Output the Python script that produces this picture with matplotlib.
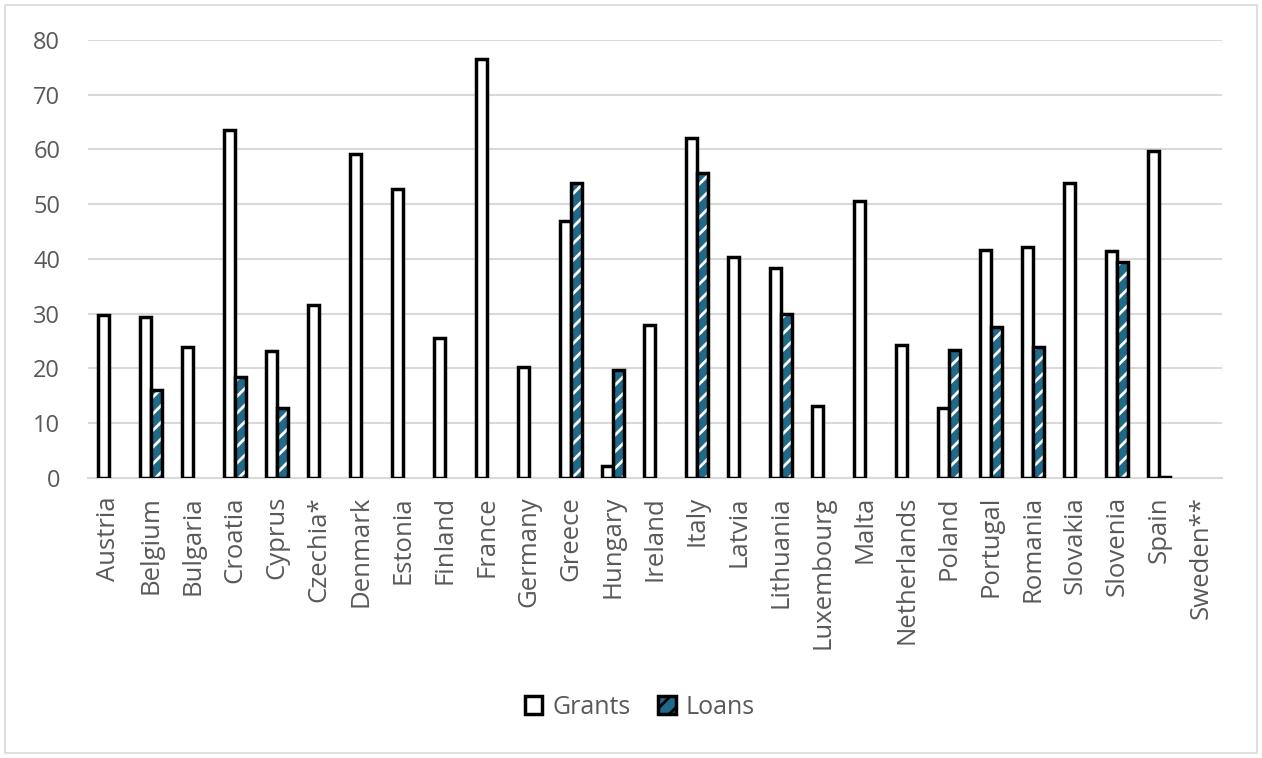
import matplotlib.pyplot as plt
import numpy as np
from matplotlib.patches import Rectangle, Patch

countries = ['Austria', 'Belgium', 'Bulgaria', 'Croatia', 'Cyprus', 'Czechia*',
             'Denmark', 'Estonia', 'Finland', 'France', 'Germany', 'Greece',
             'Hungary', 'Ireland', 'Italy', 'Latvia', 'Lithuania', 'Luxembourg',
             'Malta', 'Netherlands', 'Poland', 'Portugal', 'Romania', 'Slovakia',
             'Slovenia', 'Spain', 'Sweden**']
grants = [29.7, 29.4, 24.0, 63.5, 23.1, 31.6, 59.1, 52.7, 25.5, 76.5, 20.3, 46.9,
          2.1, 27.9, 62.0, 40.4, 38.3, 13.2, 50.5, 24.3, 12.7, 41.7, 42.2, 53.9,
          41.4, 59.7, 0.0]
loans = [0, 16.1, 0, 18.5, 12.7, 0, 0, 0, 0, 0, 0, 53.9,
         19.7, 0, 55.7, 0, 30.0, 0, 0, 0, 23.4, 27.6, 24.0, 0,
         39.5, 0.2, 0]

grey = '#595959'
teal = '#1f6a8a'
plt.rcParams['font.family'] = ['Open Sans', 'DejaVu Sans']
plt.rcParams['hatch.linewidth'] = 2.0

fig = plt.figure(figsize=(12.62, 7.58), dpi=100)
ax = fig.add_axes([0.0697, 0.3694, 0.8985, 0.578])

x = np.arange(len(countries))
g = np.array(grants, dtype=float)
l = np.array(loans, dtype=float)
# zero values are left empty, as in the source chart
g[g == 0] = np.nan
l[l == 0] = np.nan

w = 0.27
ax.bar(x - w / 2, g, w, facecolor='white', edgecolor='black', linewidth=2.5, zorder=3)
# loans: teal fill with white diagonal hatch, black outline drawn on top
ax.bar(x + w / 2, l, w, facecolor=teal, edgecolor='white', hatch='//', linewidth=0, zorder=3)
ax.bar(x + w / 2, l, w, fill=False, edgecolor='black', linewidth=2.5, zorder=4)

ax.set_xlim(-0.5, len(countries) - 0.5)
ax.set_ylim(0, 80)
ax.set_yticks(np.arange(0, 81, 10))
ax.yaxis.grid(True, color='#d9d9d9', linewidth=1.5, zorder=0)
ax.set_axisbelow(True)
for s in ['top', 'right', 'left']:
    ax.spines[s].set_visible(False)
ax.spines['bottom'].set_color('#d9d9d9')
ax.spines['bottom'].set_linewidth(1.5)
ax.tick_params(axis='both', length=0, labelcolor=grey)
ax.tick_params(axis='y', pad=20, labelsize=17)
ax.tick_params(axis='x', pad=13, labelsize=18.5)
ax.set_xticks(x)
ax.set_xticklabels(countries, rotation=90)

handles = [Patch(facecolor='white', edgecolor='black', linewidth=2.5, label='Grants'),
           Patch(facecolor=teal, edgecolor='black', linewidth=2.5, hatch='//', label='Loans')]
fig.legend(handles=handles, loc='center', bbox_to_anchor=(0.507, 0.067), ncol=2,
           frameon=False, fontsize=18, labelcolor=grey, handlelength=0.7,
           handleheight=0.7, handletextpad=0.4, columnspacing=1.1)

fig.patches.append(Rectangle((0.004, 0.006), 0.992, 0.988, transform=fig.transFigure,
                             fill=False, edgecolor='#d9d9d9', linewidth=1.2))

fig.savefig('out.png', dpi=100)
